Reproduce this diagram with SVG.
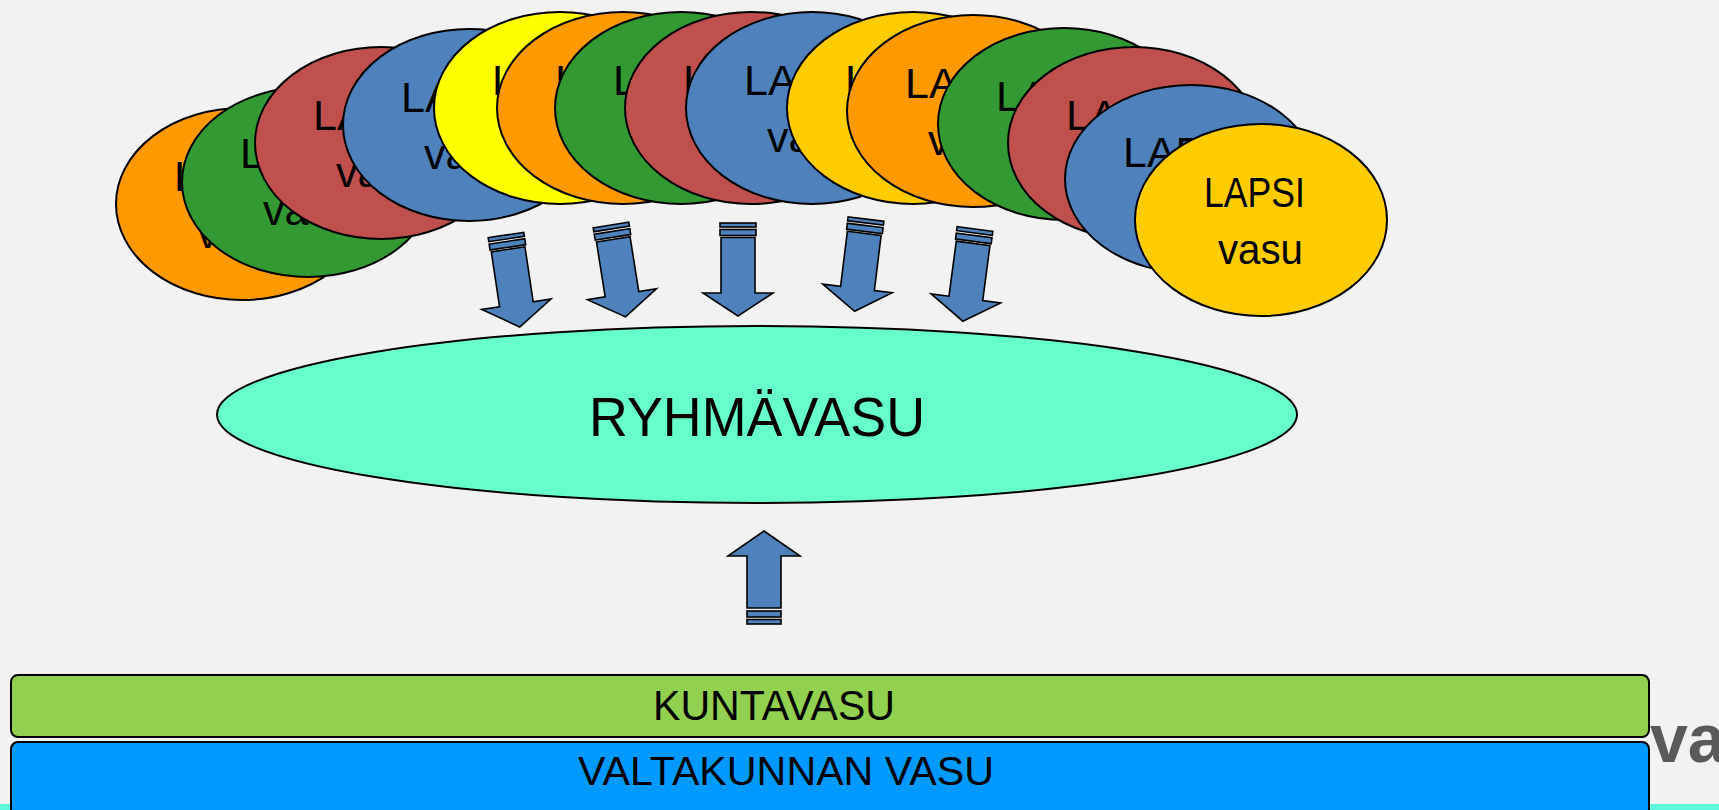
<svg xmlns="http://www.w3.org/2000/svg" xmlns:xlink="http://www.w3.org/1999/xlink" width="1719" height="810" viewBox="0 0 1719 810">
<style>
.e{stroke:#000;stroke-width:2}
.t{font-family:"Liberation Sans",Arial,sans-serif;font-size:43px;fill:#000}
.c{font-family:"Liberation Sans",Arial,sans-serif;fill:#000}
.ar{fill:#4F81BD;stroke:#000;stroke-width:1.6;stroke-linejoin:miter}
.or{fill:#FF9900}.gr{fill:#339933}.rd{fill:#C0504D}.bl{fill:#4F81BD}.ye{fill:#FFFF00}.go{fill:#FFCC00}
</style>
<defs>
<g id="darrow">
<rect class="ar" x="-18" y="0" width="36" height="4"/>
<rect class="ar" x="-18" y="6.5" width="36" height="6"/>
<path class="ar" d="M-17,14.5 H17 V70 H35 L0,93 L-35,70 H-17 Z"/>
</g>
</defs>
<rect x="0" y="0" width="1719" height="810" fill="#F2F2F2"/>
<rect x="0" y="804" width="1719" height="6" fill="#5EF7DC"/>
<text x="1650" y="762" font-family="'Liberation Sans',Arial,sans-serif" font-size="68" font-weight="bold" fill="#5a5a5a">va</text>

<g id="lapsi1"><ellipse class="e or" cx="242" cy="204" rx="126" ry="96"/><text class="t" x="174" y="191">LAPSI</text><text class="t" x="197" y="248">vasu</text></g>
<g id="lapsi2"><ellipse class="e gr" cx="308" cy="182" rx="126" ry="95"/><text class="t" x="240" y="168">LAPSI</text><text class="t" x="263" y="225">vasu</text></g>
<g id="lapsi3"><ellipse class="e rd" cx="381" cy="143" rx="126" ry="96"/><text class="t" x="313" y="130">LAPSI</text><text class="t" x="336" y="187">vasu</text></g>
<g id="lapsi4"><ellipse class="e bl" cx="469" cy="125" rx="126" ry="96"/><text class="t" x="401" y="112">LAPSI</text><text class="t" x="424" y="169">vasu</text></g>
<g id="lapsi5"><ellipse class="e ye" cx="560" cy="108" rx="126" ry="96"/><text class="t" x="492" y="95">LAPSI</text><text class="t" x="515" y="152">vasu</text></g>
<g id="lapsi6"><ellipse class="e or" cx="623" cy="108" rx="126" ry="96"/><text class="t" x="555" y="95">LAPSI</text><text class="t" x="578" y="152">vasu</text></g>
<g id="lapsi7"><ellipse class="e gr" cx="681" cy="108" rx="126" ry="96"/><text class="t" x="613" y="95">LAPSI</text><text class="t" x="636" y="152">vasu</text></g>
<g id="lapsi8"><ellipse class="e rd" cx="751" cy="108" rx="126" ry="96"/><text class="t" x="683" y="95">LAPSI</text><text class="t" x="706" y="152">vasu</text></g>
<g id="lapsi9"><ellipse class="e bl" cx="812" cy="108" rx="126" ry="96"/><text class="t" x="744" y="95">LAPSI</text><text class="t" x="767" y="152">vasu</text></g>
<g id="lapsi10"><ellipse class="e go" cx="913" cy="108" rx="126" ry="96"/><text class="t" x="845" y="95">LAPSI</text><text class="t" x="868" y="152">vasu</text></g>
<g id="lapsi11"><ellipse class="e or" cx="973" cy="111" rx="126" ry="96"/><text class="t" x="905" y="98">LAPSI</text><text class="t" x="928" y="155">vasu</text></g>
<g id="lapsi12"><ellipse class="e gr" cx="1064" cy="124" rx="126" ry="96"/><text class="t" x="996" y="111">LAPSI</text><text class="t" x="1019" y="168">vasu</text></g>
<g id="lapsi13"><ellipse class="e rd" cx="1134" cy="143" rx="126" ry="96"/><text class="t" x="1066" y="130">LAPSI</text><text class="t" x="1089" y="187">vasu</text></g>
<g id="lapsi14"><ellipse class="e bl" cx="1191" cy="179" rx="126" ry="94"/><text class="t" x="1123" y="167">LAPSI</text><text class="t" x="1146" y="223">vasu</text></g>
<g id="lapsi15"><ellipse class="e go" cx="1261" cy="220" rx="126" ry="96"/><text class="c" x="1204" y="207" font-size="42" textLength="101" lengthAdjust="spacingAndGlyphs">LAPSI</text><text class="c" x="1218" y="264" font-size="42" textLength="85" lengthAdjust="spacingAndGlyphs">vasu</text></g>

<g id="connectors">
<use xlink:href="#darrow" href="#darrow" transform="translate(506,235) rotate(-8.5)"/>
<use xlink:href="#darrow" href="#darrow" transform="translate(611,225) rotate(-9)"/>
<use xlink:href="#darrow" href="#darrow" transform="translate(738,223)"/>
<use xlink:href="#darrow" href="#darrow" transform="translate(866,219) rotate(7)"/>
<use xlink:href="#darrow" href="#darrow" transform="translate(975,229) rotate(7.5)"/>
<g id="uparrow">
<path class="ar" d="M764,531 L800,556 H781 V608 H747 V556 H728 Z"/>
<rect class="ar" x="747" y="611" width="34" height="6"/>
<rect class="ar" x="747" y="619.5" width="34" height="4.5"/>
</g>
</g>

<g id="ryhmavasu"><ellipse cx="757" cy="414.5" rx="540" ry="88.5" fill="#66FFCC" stroke="#000" stroke-width="2"/><text class="c" x="589" y="436" font-size="56" textLength="336" lengthAdjust="spacingAndGlyphs">RYHMÄVASU</text></g>

<g id="valtakunnan"><rect x="11" y="742" width="1638" height="90" rx="7" fill="#0099FF" stroke="#000" stroke-width="2"/><text class="c" x="578" y="785" font-size="41" textLength="416" lengthAdjust="spacingAndGlyphs">VALTAKUNNAN VASU</text></g>
<g id="kuntavasu"><rect x="11" y="675" width="1638" height="62" rx="7" fill="#92D050" stroke="#000" stroke-width="2"/><text class="c" x="653" y="720" font-size="42" textLength="242" lengthAdjust="spacingAndGlyphs">KUNTAVASU</text></g>
</svg>
